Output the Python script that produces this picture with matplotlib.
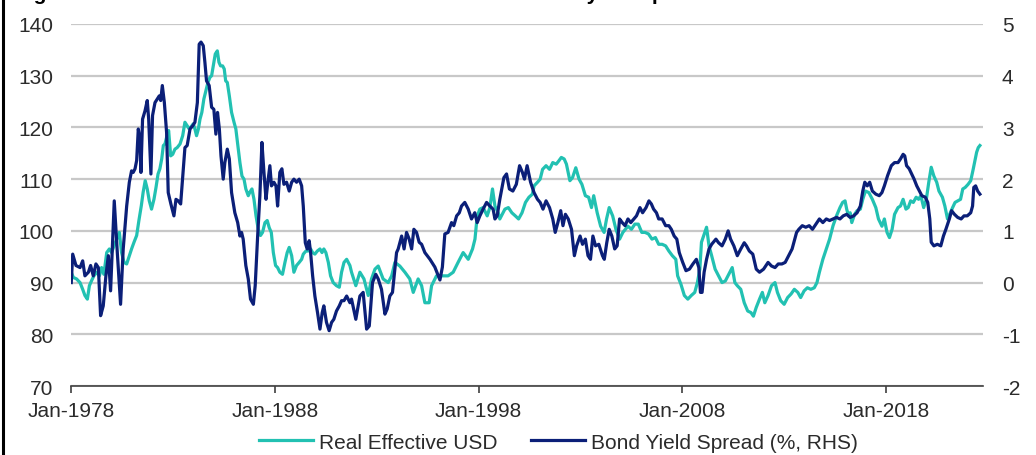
import matplotlib.pyplot as plt
from matplotlib.lines import Line2D

plt.rcParams['font.family'] = ['Liberation Sans', 'DejaVu Sans']
plt.rcParams['axes.unicode_minus'] = False

# Real effective USD index (left axis), x in decimal years
reer_years = [
    1978.00, 1978.10, 1978.26, 1978.43, 1978.56, 1978.67, 1978.79, 1978.89, 1979.00, 1979.11,
    1979.25, 1979.38, 1979.49, 1979.60, 1979.74, 1979.87, 1979.98, 1980.10, 1980.23, 1980.36,
    1980.47, 1980.59, 1980.72, 1980.85, 1980.96, 1981.08, 1981.21, 1981.32, 1981.44, 1981.53,
    1981.63, 1981.73, 1981.83, 1981.94, 1982.06, 1982.16, 1982.26, 1982.35, 1982.44, 1982.52,
    1982.60, 1982.68, 1982.78, 1982.88, 1982.98, 1983.09, 1983.20, 1983.34, 1983.47, 1983.58,
    1983.69, 1983.79, 1983.86, 1983.99, 1984.07, 1984.15, 1984.24, 1984.32, 1984.41, 1984.51,
    1984.61, 1984.71, 1984.81, 1984.89, 1984.97, 1985.07, 1985.17, 1985.25, 1985.33, 1985.43,
    1985.51, 1985.58, 1985.66, 1985.76, 1985.87, 1985.99, 1986.08, 1986.20, 1986.28, 1986.38,
    1986.48, 1986.57, 1986.69, 1986.77, 1986.87, 1986.97, 1987.07, 1987.18, 1987.29, 1987.39,
    1987.51, 1987.62, 1987.72, 1987.82, 1987.92, 1988.03, 1988.13, 1988.24, 1988.37, 1988.49,
    1988.60, 1988.70, 1988.82, 1988.93, 1989.06, 1989.19, 1989.31, 1989.39, 1989.52, 1989.63,
    1989.75, 1989.85, 1989.96, 1990.08, 1990.21, 1990.31, 1990.40, 1990.50, 1990.62, 1990.73,
    1990.86, 1991.02, 1991.16, 1991.27, 1991.39, 1991.52, 1991.68, 1991.76, 1991.97, 1992.17,
    1992.37, 1992.58, 1992.74, 1992.91, 1993.07, 1993.31, 1993.56, 1993.73, 1993.89, 1994.13,
    1994.38, 1994.62, 1994.79, 1995.03, 1995.20, 1995.36, 1995.57, 1995.69, 1995.93, 1996.26,
    1996.50, 1996.75, 1996.99, 1997.24, 1997.49, 1997.70, 1997.82, 1997.93, 1998.06, 1998.22,
    1998.42, 1998.55, 1998.68, 1998.80, 1998.96, 1999.04, 1999.29, 1999.46, 1999.63, 1999.80,
    1999.96, 2000.13, 2000.30, 2000.47, 2000.64, 2000.72, 2000.89, 2001.02, 2001.14, 2001.31,
    2001.48, 2001.64, 2001.81, 2001.93, 2002.06, 2002.20, 2002.31, 2002.48, 2002.61, 2002.77,
    2002.93, 2003.07, 2003.24, 2003.40, 2003.54, 2003.65, 2003.82, 2003.99, 2004.16, 2004.28,
    2004.41, 2004.58, 2004.74, 2004.92, 2005.08, 2005.33, 2005.50, 2005.67, 2005.84, 2006.01,
    2006.17, 2006.34, 2006.51, 2006.68, 2006.84, 2007.01, 2007.18, 2007.34, 2007.51, 2007.68,
    2007.77, 2007.93, 2008.10, 2008.27, 2008.44, 2008.61, 2008.74, 2008.86, 2008.94, 2009.19,
    2009.31, 2009.44, 2009.61, 2009.78, 2009.95, 2010.11, 2010.28, 2010.45, 2010.58, 2010.70,
    2010.87, 2011.04, 2011.21, 2011.37, 2011.49, 2011.63, 2011.79, 2011.93, 2012.05, 2012.21,
    2012.38, 2012.55, 2012.67, 2012.83, 2013.00, 2013.17, 2013.34, 2013.50, 2013.67, 2013.81,
    2013.98, 2014.14, 2014.31, 2014.48, 2014.61, 2014.73, 2014.90, 2015.07, 2015.23, 2015.40,
    2015.57, 2015.74, 2015.87, 2015.99, 2016.07, 2016.16, 2016.24, 2016.32, 2016.46, 2016.58,
    2016.74, 2016.86, 2016.99, 2017.16, 2017.33, 2017.50, 2017.63, 2017.80, 2017.92, 2018.05,
    2018.17, 2018.30, 2018.42, 2018.59, 2018.71, 2018.84, 2018.98, 2019.09, 2019.21, 2019.34,
    2019.48, 2019.60, 2019.71, 2019.85, 2019.98, 2020.10, 2020.22, 2020.35, 2020.49, 2020.60,
    2020.77, 2020.89, 2021.02, 2021.16, 2021.27, 2021.39, 2021.52, 2021.66, 2021.77, 2021.89,
    2022.03, 2022.16, 2022.28, 2022.36, 2022.45, 2022.53, 2022.61,
]
reer_values = [
    92.0, 91.0, 90.7, 90.0, 88.7, 87.5, 86.8, 89.4, 90.4, 91.3,
    92.0, 91.3, 92.9, 91.6, 95.8, 96.5, 95.8, 97.1, 98.4, 99.7,
    95.8, 93.9, 93.6, 95.2, 96.5, 97.8, 99.1, 102.0, 104.9, 107.5,
    109.7, 108.1, 105.8, 104.2, 106.1, 108.4, 111.0, 112.0, 113.9, 116.5,
    116.8, 118.1, 119.4, 114.5, 114.8, 115.8, 116.1, 116.8, 118.4, 121.0,
    120.3, 119.7, 120.0, 120.7, 119.7, 118.4, 119.7, 121.6, 122.9, 125.5,
    127.1, 128.7, 129.7, 130.0, 131.9, 134.2, 134.8, 132.6, 131.9, 131.9,
    131.3, 129.0, 128.7, 126.1, 122.9, 121.0, 119.7, 115.8, 113.2, 110.6,
    110.0, 108.1, 106.8, 107.5, 108.1, 106.1, 102.9, 100.3, 99.1, 99.7,
    101.6, 102.0, 100.6, 99.7, 95.8, 93.3, 92.9, 92.0, 91.6, 93.9,
    95.8, 96.8, 95.2, 92.0, 93.3, 93.9, 94.5, 95.5, 96.1, 96.1,
    96.5, 95.8, 95.5, 96.1, 96.5, 95.8, 96.5, 95.8, 93.9, 91.3,
    90.0, 89.4, 89.1, 92.0, 93.9, 94.5, 93.3, 92.0, 89.4, 92.0,
    90.7, 87.5, 90.7, 92.6, 93.2, 90.7, 90.0, 91.3, 93.9, 93.2,
    92.0, 90.7, 88.1, 90.7, 89.4, 86.1, 86.1, 89.4, 91.3, 91.3,
    91.3, 92.0, 93.9, 95.8, 94.5, 96.5, 98.4, 102.9, 104.2, 104.5,
    102.9, 104.5, 108.1, 104.8, 103.5, 102.3, 104.2, 104.5, 103.5, 102.9,
    102.3, 103.5, 105.5, 106.5, 107.1, 108.7, 109.4, 110.0, 111.9, 112.6,
    111.9, 113.2, 112.9, 113.5, 114.2, 113.9, 112.9, 109.7, 110.3, 112.2,
    110.0, 109.0, 106.8, 106.5, 104.5, 106.8, 103.5, 100.9, 99.7, 102.3,
    104.5, 102.9, 100.3, 98.4, 99.7, 100.9, 100.3, 101.3, 101.3, 99.7,
    99.7, 99.4, 98.4, 98.7, 97.4, 97.4, 97.1, 96.1, 95.2, 94.5,
    91.3, 89.7, 87.5, 86.8, 87.5, 88.1, 90.0, 92.6, 97.8, 100.7,
    97.1, 95.2, 92.6, 91.3, 90.0, 90.3, 91.6, 92.9, 90.0, 89.4,
    88.7, 86.1, 84.5, 84.2, 83.5, 85.2, 86.8, 88.1, 86.1, 87.5,
    89.4, 90.0, 88.1, 86.5, 85.8, 87.1, 87.8, 88.7, 88.1, 87.1,
    88.4, 89.0, 88.7, 89.0, 90.0, 92.0, 94.5, 96.5, 98.4, 101.0,
    102.9, 104.5, 105.5, 105.8, 104.2, 102.9, 103.5, 101.6, 103.2, 103.9,
    104.2, 106.1, 107.7, 107.4, 106.1, 104.5, 102.3, 100.9, 102.3, 99.7,
    98.7, 100.3, 103.2, 104.5, 104.8, 106.1, 104.2, 104.5, 105.8, 105.5,
    106.5, 106.1, 106.8, 104.5, 106.1, 109.4, 112.3, 110.6, 109.4, 107.7,
    106.5, 104.8, 102.3, 103.5, 104.5, 105.5, 105.8, 106.1, 108.1, 108.4,
    109.0, 109.7, 111.9, 113.5, 115.2, 116.1, 116.5,
]

# Bond yield spread in % (right axis)
spread_years = [
    1978.00, 1978.07, 1978.23, 1978.43, 1978.56, 1978.67, 1978.84, 1978.95, 1979.08, 1979.21,
    1979.33, 1979.44, 1979.57, 1979.70, 1979.82, 1979.93, 1980.11, 1980.26, 1980.42, 1980.55,
    1980.72, 1980.85, 1980.96, 1981.04, 1981.13, 1981.21, 1981.29, 1981.37, 1981.42, 1981.50,
    1981.62, 1981.73, 1981.80, 1981.91, 1981.99, 1982.11, 1982.22, 1982.32, 1982.39, 1982.47,
    1982.57, 1982.68, 1982.76, 1982.89, 1983.04, 1983.14, 1983.25, 1983.37, 1983.50, 1983.58,
    1983.69, 1983.83, 1983.96, 1984.07, 1984.19, 1984.28, 1984.37, 1984.48, 1984.56, 1984.64,
    1984.77, 1984.89, 1985.00, 1985.10, 1985.18, 1985.27, 1985.35, 1985.46, 1985.54, 1985.66,
    1985.76, 1985.87, 1986.03, 1986.17, 1986.28, 1986.36, 1986.44, 1986.57, 1986.69, 1986.80,
    1986.94, 1987.03, 1987.15, 1987.26, 1987.36, 1987.46, 1987.56, 1987.65, 1987.75, 1987.83,
    1987.95, 1988.05, 1988.13, 1988.24, 1988.34, 1988.44, 1988.57, 1988.70, 1988.82, 1988.93,
    1989.06, 1989.19, 1989.31, 1989.39, 1989.49, 1989.58, 1989.68, 1989.75, 1989.85, 1989.96,
    1990.09, 1990.21, 1990.32, 1990.40, 1990.53, 1990.66, 1990.78, 1990.89, 1991.02, 1991.16,
    1991.27, 1991.39, 1991.52, 1991.68, 1991.76, 1991.97, 1992.17, 1992.33, 1992.50, 1992.63,
    1992.79, 1992.95, 1993.07, 1993.23, 1993.40, 1993.51, 1993.64, 1993.77, 1993.89, 1993.97,
    1994.05, 1994.22, 1994.34, 1994.46, 1994.59, 1994.71, 1994.82, 1994.95, 1995.08, 1995.20,
    1995.36, 1995.61, 1995.85, 1996.10, 1996.22, 1996.34, 1996.50, 1996.67, 1996.78, 1996.92,
    1997.05, 1997.16, 1997.32, 1997.49, 1997.65, 1997.81, 1997.93, 1998.06, 1998.22, 1998.39,
    1998.55, 1998.71, 1998.80, 1998.91, 1999.04, 1999.24, 1999.37, 1999.51, 1999.68, 1999.85,
    2000.01, 2000.15, 2000.25, 2000.38, 2000.55, 2000.72, 2000.89, 2001.02, 2001.16, 2001.31,
    2001.48, 2001.64, 2001.76, 2001.89, 2002.03, 2002.14, 2002.26, 2002.40, 2002.56, 2002.70,
    2002.81, 2002.98, 2003.10, 2003.24, 2003.37, 2003.49, 2003.61, 2003.74, 2003.90, 2004.08,
    2004.17, 2004.29, 2004.41, 2004.54, 2004.68, 2004.80, 2004.92, 2005.05, 2005.19, 2005.33,
    2005.47, 2005.62, 2005.75, 2005.92, 2006.05, 2006.22, 2006.36, 2006.48, 2006.59, 2006.73,
    2006.84, 2007.01, 2007.18, 2007.34, 2007.46, 2007.60, 2007.73, 2007.85, 2007.97, 2008.02,
    2008.18, 2008.35, 2008.52, 2008.69, 2008.81, 2008.89, 2008.97, 2009.07, 2009.19, 2009.31,
    2009.44, 2009.65, 2009.78, 2009.95, 2010.11, 2010.25, 2010.37, 2010.53, 2010.70, 2010.87,
    2011.04, 2011.15, 2011.29, 2011.46, 2011.63, 2011.79, 2011.99, 2012.21, 2012.38, 2012.55,
    2012.71, 2012.89, 2013.05, 2013.22, 2013.39, 2013.61, 2013.72, 2013.89, 2014.06, 2014.23,
    2014.39, 2014.56, 2014.73, 2014.90, 2015.07, 2015.23, 2015.40, 2015.57, 2015.74, 2015.90,
    2016.07, 2016.24, 2016.41, 2016.58, 2016.74, 2016.86, 2016.96, 2017.08, 2017.20, 2017.33,
    2017.50, 2017.67, 2017.80, 2017.92, 2018.08, 2018.26, 2018.42, 2018.59, 2018.71, 2018.84,
    2018.92, 2019.01, 2019.14, 2019.26, 2019.38, 2019.51, 2019.64, 2019.76, 2019.93, 2020.05,
    2020.15, 2020.22, 2020.35, 2020.52, 2020.69, 2020.82, 2020.94, 2021.11, 2021.22, 2021.36,
    2021.52, 2021.69, 2021.83, 2021.99, 2022.16, 2022.25, 2022.31, 2022.40, 2022.50, 2022.61,
]
spread_values = [
    0.00, 0.55, 0.33, 0.29, 0.42, 0.13, 0.20, 0.33, 0.13, 0.36,
    0.29, -0.64, -0.45, 0.13, 0.52, -0.16, 1.58, 0.58, -0.42, 0.65,
    1.48, 1.94, 2.16, 2.13, 2.20, 2.36, 2.97, 2.77, 2.13, 3.16,
    3.32, 3.52, 3.16, 2.10, 3.23, 3.48, 3.55, 3.61, 3.52, 3.81,
    3.48, 2.90, 1.74, 1.52, 1.29, 1.61, 1.58, 1.52, 2.20, 2.61,
    2.65, 2.97, 3.03, 3.10, 3.48, 4.61, 4.65, 4.58, 4.26, 3.90,
    3.81, 3.39, 3.35, 2.87, 3.29, 2.97, 2.45, 2.00, 2.32, 2.58,
    2.39, 1.74, 1.35, 1.16, 0.90, 0.97, 0.84, 0.33, 0.07, -0.32,
    -0.42, -0.06, 0.90, 1.68, 2.71, 2.13, 1.61, 1.94, 2.26, 1.87,
    1.94, 1.87, 1.48, 2.13, 2.20, 1.90, 1.94, 1.77, 1.94, 2.00,
    1.94, 2.00, 1.87, 1.48, 0.77, 0.65, 0.81, 0.58, 0.13, -0.26,
    -0.58, -0.90, -0.58, -0.45, -0.77, -0.93, -0.77, -0.71, -0.55, -0.45,
    -0.35, -0.35, -0.26, -0.39, -0.32, -0.71, -0.26, -0.19, -0.90, -0.84,
    0.00, 0.16, 0.07, -0.13, -0.61, -0.51, -0.26, -0.19, 0.26, 0.58,
    0.65, 0.90, 0.65, 0.97, 0.84, 0.65, 1.03, 0.97, 0.78, 0.74,
    0.58, 0.45, 0.30, 0.05, 0.30, 0.94, 0.97, 1.16, 1.10, 1.29,
    1.35, 1.48, 1.55, 1.42, 1.23, 1.35, 1.16, 1.29, 1.42, 1.55,
    1.48, 1.42, 1.23, 1.29, 1.61, 2.03, 2.10, 1.81, 1.77, 1.90,
    2.26, 2.13, 2.00, 2.26, 1.94, 1.74, 1.61, 1.55, 1.42, 1.58,
    1.45, 1.23, 0.97, 1.16, 1.39, 1.10, 1.32, 1.23, 1.03, 0.52,
    0.71, 0.90, 0.74, 0.84, 0.52, 0.45, 0.90, 0.71, 0.74, 0.52,
    0.45, 0.77, 1.03, 0.90, 0.65, 0.71, 1.23, 1.16, 1.10, 1.23,
    1.16, 1.23, 1.29, 1.45, 1.35, 1.45, 1.58, 1.52, 1.42, 1.35,
    1.23, 1.23, 1.10, 1.10, 1.03, 0.90, 0.84, 0.58, 0.45, 0.39,
    0.23, 0.26, 0.36, 0.45, 0.29, -0.19, -0.19, 0.20, 0.45, 0.65,
    0.74, 0.84, 0.77, 0.71, 0.84, 1.00, 0.84, 0.71, 0.52, 0.65,
    0.77, 0.71, 0.61, 0.55, 0.26, 0.20, 0.26, 0.39, 0.32, 0.29,
    0.36, 0.36, 0.39, 0.52, 0.65, 0.97, 1.03, 1.10, 1.07, 1.10,
    1.03, 1.13, 1.23, 1.16, 1.23, 1.20, 1.23, 1.26, 1.23, 1.29,
    1.32, 1.26, 1.29, 1.35, 1.48, 1.77, 1.94, 1.87, 1.94, 1.77,
    1.71, 1.68, 1.74, 1.87, 2.07, 2.26, 2.32, 2.32, 2.39, 2.48,
    2.45, 2.26, 2.20, 2.10, 2.00, 1.87, 1.77, 1.68, 1.65, 1.55,
    1.23, 0.78, 0.71, 0.74, 0.71, 0.90, 1.03, 1.23, 1.39, 1.32,
    1.26, 1.23, 1.29, 1.29, 1.35, 1.48, 1.84, 1.87, 1.77, 1.71,
]

tick_years = [1978, 1988, 1998, 2008, 2018]
tick_labels = ["Jan-%d" % y for y in tick_years]

teal = "#22c1b2"
navy = "#0b1f78"
text_col = "#2b2b2b"

fig = plt.figure(figsize=(10.36, 4.56), dpi=100)
ax = fig.add_axes([0.0688, 0.1513, 0.8796, 0.7939])
ax2 = ax.twinx()

l1, = ax.plot(reer_years, reer_values, color=teal, lw=2.3, label="Real Effective USD")
l2, = ax2.plot(spread_years, spread_values, color=navy, lw=2.3, label="Bond Yield Spread (%, RHS)")

ax.set_xlim(1978.0, 2022.74)
ax.set_ylim(70, 140)
ax2.set_ylim(-2, 5)
ax.set_yticks(range(70, 141, 10))
ax2.set_yticks(range(-2, 6))
ax.set_xticks(tick_years)
ax.set_xticklabels(tick_labels)

ax.grid(axis="y", color="#c8c8c8", lw=1.6)
ax.set_axisbelow(True)

for a in (ax, ax2):
    for side in ("left", "right", "top"):
        a.spines[side].set_visible(False)
ax2.spines["bottom"].set_visible(False)
ax.spines["bottom"].set_color("#404040")
ax.spines["bottom"].set_linewidth(1.2)
ax.spines["bottom"].set_zorder(5)

ax.tick_params(axis="y", length=0, pad=13, labelsize=15, labelcolor=text_col)
ax2.tick_params(axis="y", length=0, pad=14, labelsize=15, labelcolor=text_col)
ax.tick_params(axis="x", length=5, width=1.2, color="#404040", pad=6,
               labelsize=15, labelcolor=text_col)

fig.legend([l1, l2], [l1.get_label(), l2.get_label()], loc="center",
           bbox_to_anchor=(0.539, 0.0285), ncol=2, frameon=False,
           handlelength=2.6, handletextpad=0.3, columnspacing=1.6,
           fontsize=15, labelcolor=text_col)

# heading sits above the top edge of the image
fig.text(0.0145, 1.0, "Figure 3: Real effective USD index and the US-Euro bond yield spread",
         fontweight="bold", fontsize=15, va="baseline", ha="left", color="black")

# frame line down the left edge
fig.add_artist(Line2D([0.0025, 0.0025], [0, 1], transform=fig.transFigure,
                      color="black", lw=2.2))

fig.savefig("out.png", dpi=100)
